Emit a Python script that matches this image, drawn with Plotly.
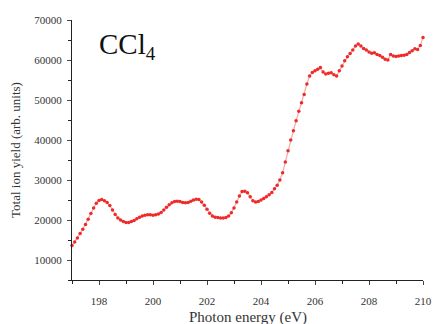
import plotly.graph_objects as go

energy = [round(197.0 + 0.1 * i, 1) for i in range(131)]
ion_yield = [
    13600, 14500, 15500, 16600, 17700, 18900, 20200, 21600, 23000, 24200,
    24900, 25100, 24800, 24400, 23600, 22500, 21400, 20500, 20000, 19600,
    19400, 19400, 19600, 19900, 20300, 20700, 21000, 21200, 21300, 21300,
    21200, 21300, 21500, 21900, 22500, 23200, 23800, 24300, 24600, 24700,
    24600, 24400, 24300, 24400, 24700, 25000, 25200, 25100, 24500, 23700,
    22700, 21700, 21000, 20700, 20600, 20500, 20500, 20600, 21000, 21800,
    23000, 24500, 26000, 27100, 27200, 26800, 25800, 24800, 24500, 24600,
    25000, 25400, 25800, 26300, 26900, 27800, 28700, 30000, 31800, 34500,
    37300, 40000, 42300, 44800, 47200, 49300, 51400, 54000, 56000, 56900,
    57300, 57700, 58100, 57000, 56500, 56700, 56800, 56300, 56000, 57300,
    58500, 59800, 60800, 61600, 62500, 63500, 64000, 63500, 62900, 62500,
    62000, 61700, 61800, 61400, 61100, 60700, 60200, 60000, 61400, 61000,
    60900, 61000, 61100, 61200, 61400, 61900, 62300, 62800, 62600, 63600,
    65600,
]

x_ticks = [198, 200, 202, 204, 206, 208, 210]
x_tick_labels = ["198", "200", "202", "204", "206", "208", "210"]
y_ticks = [10000, 20000, 30000, 40000, 50000, 60000, 70000]
y_tick_labels = ["10000", "20000", "30000", "40000", "50000", "60000", "70000"]

fig = go.Figure()
fig.add_trace(go.Scatter(
    x=energy, y=ion_yield, mode="lines+markers",
    line=dict(color="rgba(240,60,60,0.45)", width=1.2),
    marker=dict(color="#ee2a2a", size=3.5),
    cliponaxis=False,
))

font_serif = "Liberation Serif, Times New Roman, serif"
fig.update_layout(
    width=436, height=324,
    margin=dict(l=72, r=13, t=20, b=44),
    paper_bgcolor="white", plot_bgcolor="white",
    showlegend=False,
    font=dict(family=font_serif, color="#333333"),
    annotations=[
        dict(
            text="CCl<sub><span style='font-size:19px'>4</span></sub>",
            x=0.07, y=0.90, xref="paper", yref="paper",
            xanchor="left", yanchor="middle", showarrow=False,
            font=dict(family=font_serif, size=29, color="#111111"),
        ),
        dict(
            text="Photon energy (eV)", x=0.5, y=-0.145, xref="paper", yref="paper",
            xanchor="center", yanchor="middle", showarrow=False,
            font=dict(family=font_serif, size=15, color="#333333"),
        ),
    ],
)
fig.update_xaxes(
    range=[197, 210], tickvals=x_ticks, ticktext=x_tick_labels,
    ticks="outside", ticklen=4, ticklabelstandoff=7, automargin=False,
    showline=True, linecolor="#222", linewidth=1, showgrid=False, zeroline=False,
    tickfont=dict(size=11), minor=dict(dtick=1, ticks="outside", ticklen=3, tickcolor="#222"),
)
fig.update_yaxes(
    range=[5000, 70000], tickvals=y_ticks, ticktext=y_tick_labels,
    ticks="outside", ticklen=4, ticklabelstandoff=3, automargin=False,
    showline=True, linecolor="#222", linewidth=1, showgrid=False, zeroline=False,
    tickfont=dict(size=11), minor=dict(dtick=5000, tick0=0, ticks="outside", ticklen=3, tickcolor="#222"),
    title=dict(text="Total ion yield (arb. units)", font=dict(size=13), standoff=10),
)

fig.write_html(
    "out.html",
    config={"displayModeBar": False},
    post_script="document.body.style.margin='0';document.body.style.overflow='hidden';",
)
